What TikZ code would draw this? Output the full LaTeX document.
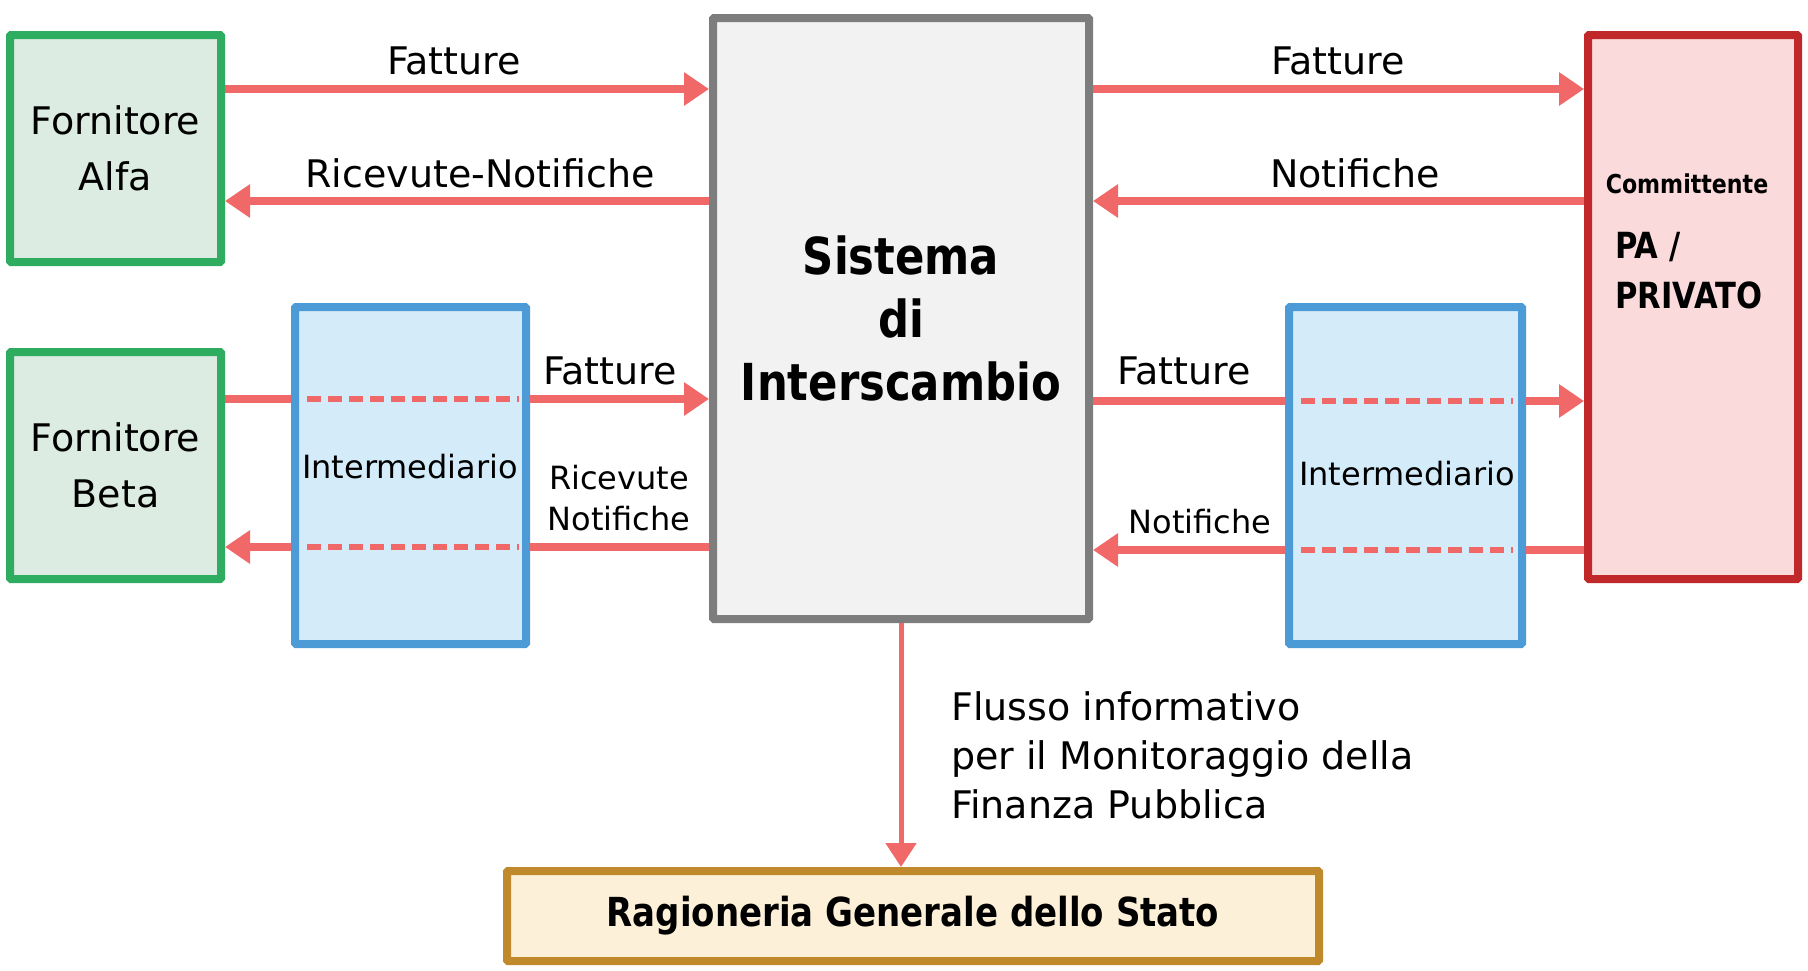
\documentclass[tikz,border=0pt]{standalone}
\usepackage{fontspec}
\setmainfont{DejaVu Sans}
\newfontfamily\cbf{DejaVu Sans}[FakeStretch=0.85]
\usetikzlibrary{arrows.meta,calc}
\definecolor{arrc}{RGB}{240,104,104}
\definecolor{grnD}{RGB}{46,172,96}
\definecolor{grnL}{RGB}{220,236,226}
\definecolor{bluD}{RGB}{76,154,214}
\definecolor{bluL}{RGB}{212,236,249}
\definecolor{gryD}{RGB}{125,125,125}
\definecolor{gryL}{RGB}{242,242,242}
\definecolor{redD}{RGB}{192,40,42}
\definecolor{redL}{RGB}{250,218,219}
\definecolor{gldD}{RGB}{192,138,44}
\definecolor{gldL}{RGB}{253,240,216}
\begin{document}
\begin{tikzpicture}[x=1pt,y=-1pt,
  box/.style={line width=8pt,inner sep=0pt,rounded corners=1pt},
  gbox/.style={box,draw=grnD,fill=grnL},
  bbox/.style={box,draw=bluD,fill=bluL},
  sbox/.style={box,draw=gryD,fill=gryL},
  rbox/.style={box,draw=redD,fill=redL},
  obox/.style={box,draw=gldD,fill=gldL},
  lab/.style={inner sep=0pt,font=\fontsize{38}{46}\selectfont},
  slab/.style={inner sep=0pt,font=\fontsize{32}{41}\selectfont,align=center},
  arr/.style={draw=arrc,line width=8pt,-{Triangle[length=25pt,width=32pt]}},
  ln/.style={draw=arrc,line width=8pt},
  dsh/.style={draw=arrc,line width=6pt,dash pattern=on 14pt off 7pt},
  varr/.style={draw=arrc,line width=5pt,-{Triangle[length=24pt,width=30pt]}}
]
\useasboundingbox (0,0) rectangle (1808,970);

% boxes
\node[gbox,minimum width=211pt,minimum height=227pt,align=center,
  font=\fontsize{38}{56}\selectfont] (alfa) at (115.5,148.5) {Fornitore\\Alfa};
\node[gbox,minimum width=211pt,minimum height=227pt,align=center,
  font=\fontsize{38}{56}\selectfont] (beta) at (115.5,465.5) {Fornitore\\Beta};
\node[bbox,minimum width=231pt,minimum height=337pt] (intL) at (410.5,475.5) {};
\node[sbox,minimum width=376pt,minimum height=601pt,align=center,
  font=\cbf\bfseries\fontsize{51}{63}\selectfont] (sis) at (901,318.5) {Sistema\\di\\Interscambio};
\node[bbox,minimum width=233pt,minimum height=337pt] (intR) at (1405.5,475.5) {};
\node[rbox,minimum width=210pt,minimum height=544pt] (comm) at (1693,307) {};
\node[obox,minimum width=812pt,minimum height=90pt,
  font=\cbf\bfseries\fontsize{40}{48}\selectfont] (rgs) at (913,916) {Ragioneria Generale dello Stato};

% texts inside boxes
\node[lab,font=\fontsize{32}{40}\selectfont] (tIL) at (410,467) {Intermediario};
\node[lab,font=\fontsize{32}{40}\selectfont] (tIR) at (1407,474) {Intermediario};
\node[inner sep=0pt,font=\cbf\bfseries\fontsize{26}{32}\selectfont] (tC) at (1687,184) {Committente};
\node[inner sep=0pt,anchor=west,font=\cbf\bfseries\fontsize{36}{48}\selectfont] (tPA) at (1615,247) {PA /};
\node[inner sep=0pt,anchor=west,font=\cbf\bfseries\fontsize{36}{48}\selectfont] (tPR) at (1615,295) {PRIVATO};

% levels
\coordinate (y1) at (0,89);
\coordinate (y2) at (0,201);
\coordinate (y3) at (0,399);
\coordinate (y4) at (0,547);
\coordinate (y3r) at (0,401);
\coordinate (y4r) at (0,550);

% top arrows
\draw[arr] (alfa.east |- y1) -- (sis.west |- y1);
\draw[arr] (sis.west |- y2) -- (alfa.east |- y2);
\draw[arr] (sis.east |- y1) -- (comm.west |- y1);
\draw[arr] (comm.west |- y2) -- (sis.east |- y2);

% left intermediary arrows
\draw[ln] (beta.east |- y3) -- (intL.west |- y3);
\draw[dsh] ($(intL.west |- y3)+(16,0)$) -- ($(intL.east |- y3)+(-11,0)$);
\draw[arr] (intL.east |- y3) -- (sis.west |- y3);
\draw[ln] (sis.west |- y4) -- (intL.east |- y4);
\draw[dsh] ($(intL.west |- y4)+(16,0)$) -- ($(intL.east |- y4)+(-11,0)$);
\draw[arr] (intL.west |- y4) -- (beta.east |- y4);

% right intermediary arrows
\draw[ln] (sis.east |- y3r) -- (intR.west |- y3r);
\draw[dsh] ($(intR.west |- y3r)+(16,0)$) -- ($(intR.east |- y3r)+(-13,0)$);
\draw[arr] (intR.east |- y3r) -- (comm.west |- y3r);
\draw[ln] (comm.west |- y4r) -- (intR.east |- y4r);
\draw[dsh] ($(intR.west |- y4r)+(16,0)$) -- ($(intR.east |- y4r)+(-13,0)$);
\draw[arr] (intR.west |- y4r) -- (sis.east |- y4r);

% vertical arrow
\draw[varr] (sis.south) -- (sis.south |- rgs.north);

% labels
\node[lab] (l1) at (454,61) {Fatture};
\node[lab] (l2) at (480,173) {Ricevute-Notifiche};
\node[lab] (l3) at (1338,61) {Fatture};
\node[lab] (l4) at (1355,173) {Notifiche};
\node[lab] (l5) at (610,371) {Fatture};
\node[slab] (l6) at (619,498) {Ricevute\\Notifiche};
\node[lab] (l7) at (1184,371) {Fatture};
\node[lab,font=\fontsize{32}{40}\selectfont] (l8) at (1200,522) {Notifiche};
\node[inner sep=0pt,anchor=west,align=left,font=\fontsize{38}{49}\selectfont] (flx) at (951,755)
  {Flusso informativo\\per il Monitoraggio della\\Finanza Pubblica};
\end{tikzpicture}
\end{document}
